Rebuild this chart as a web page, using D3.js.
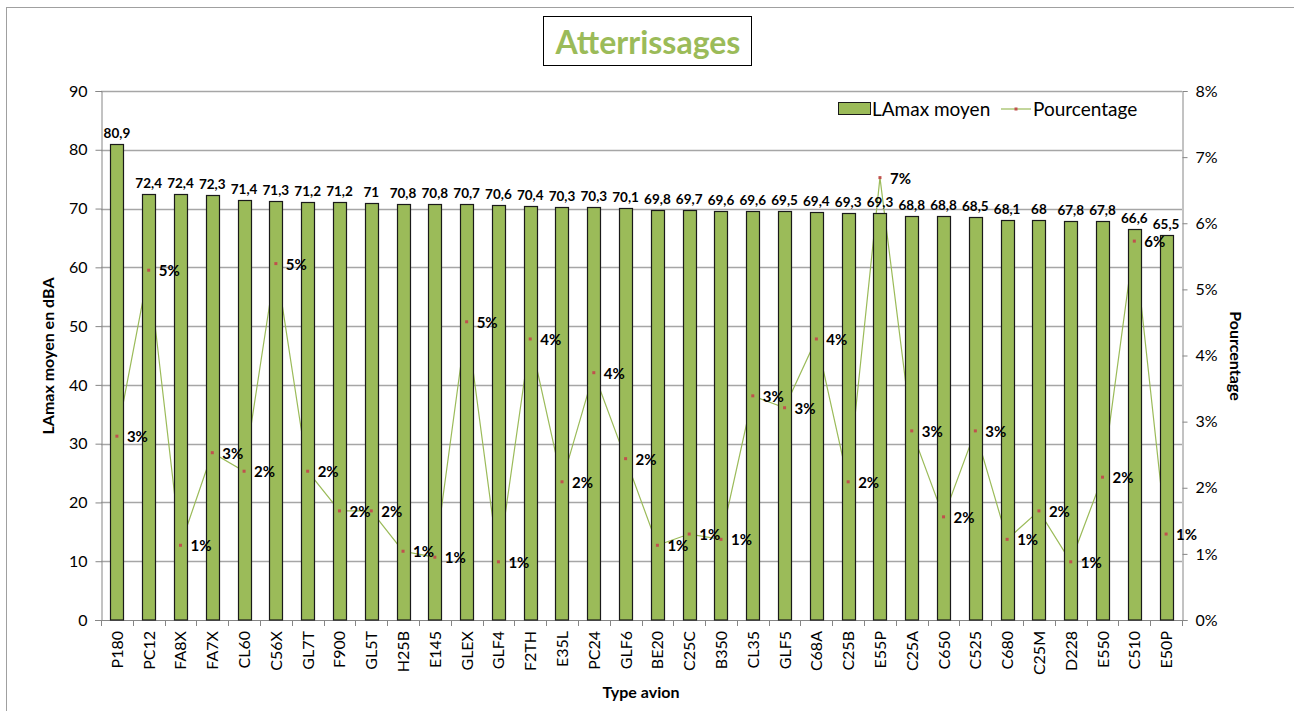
<!DOCTYPE html>
<html>
<head>
<meta charset="utf-8">
<script src="https://cdn.jsdelivr.net/npm/d3@7"></script>
<style>
  body { margin: 0; background: #fff; }
  svg { display: block; font-family: Lato, "Open Sans", sans-serif; }
</style>
</head>
<body>
<div id="chart"></div>
<script>
// categories (type avion)
const avions = ['P180', 'PC12', 'FA8X', 'FA7X', 'CL60', 'C56X', 'GL7T', 'F900', 'GL5T', 'H25B',
  'E145', 'GLEX', 'GLF4', 'F2TH', 'E35L', 'PC24', 'GLF6', 'BE20', 'C25C', 'B350', 'CL35',
  'GLF5', 'C68A', 'C25B', 'E55P', 'C25A', 'C650', 'C525', 'C680', 'C25M', 'D228', 'E550',
  'C510', 'E50P'];

// LAmax moyen (dBA)
const lamax = [80.9, 72.4, 72.4, 72.3, 71.4, 71.3, 71.2, 71.2, 71, 70.8,
  70.8, 70.7, 70.6, 70.4, 70.3, 70.3, 70.1, 69.8, 69.7, 69.6, 69.6,
  69.5, 69.4, 69.3, 69.3, 68.8, 68.8, 68.5, 68.1, 68, 67.8, 67.8,
  66.6, 65.5];

// pourcentage (share of landings)
const pourcentage = [0.0278, 0.0529, 0.0113, 0.0253, 0.0225, 0.0539, 0.0225, 0.0165, 0.0165, 0.0104,
  0.0095, 0.0451, 0.0088, 0.0425, 0.0209, 0.0374, 0.0244, 0.0113, 0.0130, 0.0122, 0.0339,
  0.0321, 0.0425, 0.0209, 0.0669, 0.0286, 0.0156, 0.0286, 0.0122, 0.0165, 0.0088, 0.0216,
  0.0573, 0.0130];

const leftTicks = d3.range(0, 91, 10);
const rightTicks = d3.range(0, 0.081, 0.01);

const width = 1294;
const height = 711;
const plot = { left: 101, right: 1182, top: 91, bottom: 620 };

const green = '#9bbb59';
const markerColor = '#c0504d';
const gridColor = '#a6a6a6';
const axisColor = '#868686';
const fmtComma = d => String(d).replace('.', ',');

const svg = d3.select('#chart')
  .append('svg')
  .attr('width', width)
  .attr('height', height);

// outer chart border
svg.append('rect')
  .attr('x', 6.5).attr('y', 7.5)
  .attr('width', 1300).attr('height', 720)
  .attr('fill', 'none')
  .attr('stroke', '#a0a0a0');

// scales
const x = d3.scaleBand()
  .domain(avions)
  .range([plot.left, plot.right])
  .paddingInner(0.59)
  .paddingOuter(0.295);

const yLeft = d3.scaleLinear().domain([0, 90]).range([plot.bottom, plot.top]);
const yRight = d3.scaleLinear().domain([0, 0.08]).range([plot.bottom, plot.top]);

// gridlines
svg.append('g')
  .selectAll('line')
  .data(leftTicks.filter(d => d > 0))
  .join('line')
  .attr('x1', plot.left).attr('x2', plot.right)
  .attr('y1', d => Math.round(yLeft(d)) + 0.5)
  .attr('y2', d => Math.round(yLeft(d)) + 0.5)
  .attr('stroke', gridColor)
  .attr('stroke-width', 1.5);

// left axis
const axisL = svg.append('g')
  .attr('transform', `translate(${plot.left + 0.5},0)`)
  .call(d3.axisLeft(yLeft).tickValues(leftTicks).tickSize(6).tickPadding(8).tickFormat(d3.format('d')));
axisL.select('.domain').attr('stroke', axisColor);
axisL.selectAll('.tick line').attr('stroke', axisColor);
axisL.selectAll('text').attr('font-size', 16).attr('fill', '#000')
  .attr('font-family', 'Lato, sans-serif');

// right axis
const axisR = svg.append('g')
  .attr('transform', `translate(${plot.right + 0.5},0)`)
  .call(d3.axisRight(yRight).tickValues(rightTicks).tickSize(5).tickPadding(8).tickFormat(d3.format('.0%')));
axisR.select('.domain').attr('stroke', axisColor);
axisR.selectAll('.tick line').attr('stroke', axisColor);
axisR.selectAll('text').attr('font-size', 16).attr('fill', '#000')
  .attr('font-family', 'Lato, sans-serif');

// bottom axis: ticks between categories
const step = x.step();
const bottomG = svg.append('g');
bottomG.append('line')
  .attr('x1', plot.left - 6).attr('x2', plot.right)
  .attr('y1', plot.bottom + 0.5).attr('y2', plot.bottom + 0.5)
  .attr('stroke', axisColor);
bottomG.selectAll('line.tick')
  .data(d3.range(avions.length + 1))
  .join('line')
  .attr('class', 'tick')
  .attr('x1', i => Math.round(plot.left + i * step) + 0.5)
  .attr('x2', i => Math.round(plot.left + i * step) + 0.5)
  .attr('y1', plot.bottom)
  .attr('y2', plot.bottom + 6)
  .attr('stroke', axisColor);
bottomG.selectAll('text')
  .data(avions)
  .join('text')
  .attr('transform', d => `translate(${x(d) + x.bandwidth() / 2 + 6},${plot.bottom + 11}) rotate(-90)`)
  .attr('text-anchor', 'end')
  .attr('font-size', 16)
  .text(d => d);

// percentage line (drawn under the bars)
const line = d3.line()
  .x((d, i) => x(avions[i]) + x.bandwidth() / 2)
  .y(d => yRight(d));
svg.append('path')
  .datum(pourcentage)
  .attr('d', line)
  .attr('fill', 'none')
  .attr('stroke', green)
  .attr('stroke-width', 1.2);

// bars
svg.append('g')
  .selectAll('rect')
  .data(lamax)
  .join('rect')
  .attr('x', (d, i) => Math.round(x(avions[i])) + 0.5)
  .attr('y', d => Math.round(yLeft(d)) + 0.5)
  .attr('width', Math.round(x.bandwidth()))
  .attr('height', d => plot.bottom - Math.round(yLeft(d)) - 0.5)
  .attr('fill', green)
  .attr('stroke', '#1a1a1a')
  .attr('stroke-width', 1.2);

// markers
svg.append('g')
  .selectAll('rect')
  .data(pourcentage)
  .join('rect')
  .attr('x', (d, i) => x(avions[i]) + x.bandwidth() / 2 - 1.5)
  .attr('y', d => yRight(d) - 1.5)
  .attr('width', 3).attr('height', 3)
  .attr('fill', markerColor);

// bar value labels
svg.append('g')
  .selectAll('text')
  .data(lamax)
  .join('text')
  .attr('x', (d, i) => x(avions[i]) + x.bandwidth() / 2)
  .attr('y', d => yLeft(d) - 6)
  .attr('text-anchor', 'middle')
  .attr('font-size', 13.5)
  .attr('font-weight', 'bold')
  .text(d => fmtComma(d));

// percentage labels
svg.append('g')
  .selectAll('text')
  .data(pourcentage)
  .join('text')
  .attr('x', (d, i) => x(avions[i]) + x.bandwidth() / 2 + 10)
  .attr('y', d => yRight(d) + 6)
  .attr('font-size', 15)
  .attr('font-weight', 'bold')
  .text(d => d3.format('.0%')(d));

// axis titles
svg.append('text')
  .attr('transform', `translate(54,356) rotate(-90)`)
  .attr('text-anchor', 'middle')
  .attr('font-size', 16)
  .attr('font-weight', 'bold')
  .text('LAmax moyen en dBA');

svg.append('text')
  .attr('transform', `translate(1230,356) rotate(90)`)
  .attr('text-anchor', 'middle')
  .attr('font-size', 16)
  .attr('font-weight', 'bold')
  .text('Pourcentage');

svg.append('text')
  .attr('x', 641).attr('y', 698)
  .attr('text-anchor', 'middle')
  .attr('font-size', 16)
  .attr('font-weight', 'bold')
  .text('Type avion');

// title box
svg.append('rect')
  .attr('x', 543.5).attr('y', 16.5)
  .attr('width', 208).attr('height', 49)
  .attr('fill', '#fff')
  .attr('stroke', '#000');
svg.append('text')
  .attr('x', 648).attr('y', 54)
  .attr('text-anchor', 'middle')
  .attr('font-size', 32)
  .attr('font-weight', 'bold')
  .attr('fill', green)
  .text('Atterrissages');

// legend
const legend = svg.append('g');
legend.append('rect')
  .attr('x', 838.5).attr('y', 102.5)
  .attr('width', 32).attr('height', 12)
  .attr('fill', green)
  .attr('stroke', '#1a1a1a');
legend.append('text')
  .attr('x', 872).attr('y', 116)
  .attr('font-size', 19)
  .text('LAmax moyen');
legend.append('line')
  .attr('x1', 1001).attr('x2', 1031)
  .attr('y1', 109).attr('y2', 109)
  .attr('stroke', green)
  .attr('stroke-width', 1.2);
legend.append('rect')
  .attr('x', 1014.5).attr('y', 107.5)
  .attr('width', 3).attr('height', 3)
  .attr('fill', markerColor);
legend.append('text')
  .attr('x', 1033).attr('y', 116)
  .attr('font-size', 19)
  .text('Pourcentage');
</script>
</body>
</html>
